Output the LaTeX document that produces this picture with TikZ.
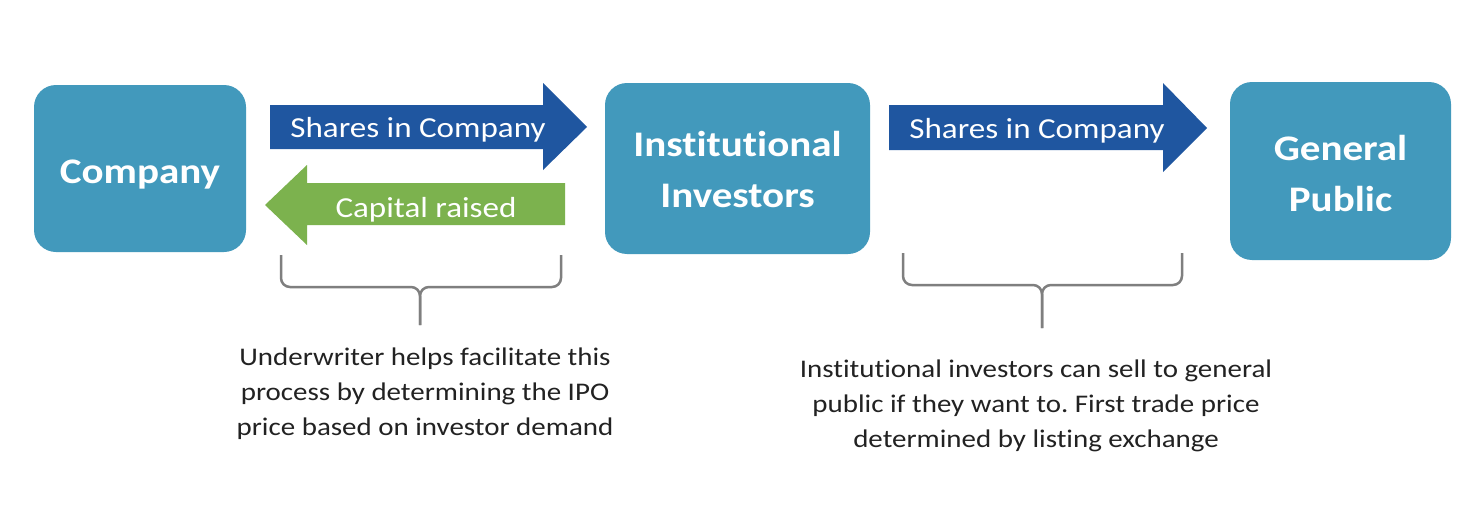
\documentclass[tikz,border=0pt]{standalone}
\usepackage{fontspec}
\setmainfont[FakeStretch=1.14,Ligatures={NoCommon}]{Carlito}
\frenchspacing
\definecolor{boxc}{HTML}{4299BC}
\definecolor{bluearr}{HTML}{1F56A0}
\definecolor{greenarr}{HTML}{7CB24E}
\definecolor{notec}{HTML}{222222}
\definecolor{bracec}{HTML}{7F7F7F}
\begin{document}
\begin{tikzpicture}[x=1pt,y=-1pt,
  box/.style={fill=boxc, draw=none, rounded corners=22pt, inner sep=0pt},
  boxtext/.style={text=white, font=\fontsize{36}{51}\selectfont\bfseries, align=center, anchor=base, inner sep=0pt},
  arrtext/.style={text=white, font=\fontsize{29}{35}\selectfont, anchor=base, inner sep=0pt},
  note/.style={text=notec, font=\fontsize{25.4}{35}\selectfont, align=center, anchor=base, inner sep=0pt},
  brace/.style={draw=bracec, line width=2.5pt, rounded corners=9pt}]
\useasboundingbox (0,0) rectangle (1468,506);
\fill[white] (0,0) rectangle (1468,506);
% boxes
\node[box, minimum width=212pt, minimum height=167pt] (company) at (140,168.5) {};
\node[box, minimum width=265pt, minimum height=171pt] (inst) at (737.5,168.5) {};
\node[box, minimum width=221pt, minimum height=178pt] (public) at (1340.5,171) {};
\node[boxtext] (companyL) at (140,183) {Company};
\node[boxtext] (instL) at (737.5,207) {Institutional\\Investors};
\node[boxtext] (publicL) at (1340.5,211) {General\\Public};
% arrows
\fill[bluearr] (270,105) -- (543,105) -- (543,83) -- (587,127) -- (543,170) -- (543,149) -- (270,149) -- cycle;
\fill[greenarr] (565,183) -- (307,183) -- (307,165) -- (265,205) -- (307,245) -- (307,225) -- (565,225) -- cycle;
\fill[bluearr] (889,105) -- (1163,105) -- (1163,83) -- (1207,128) -- (1163,172) -- (1163,150) -- (889,150) -- cycle;
\node[arrtext] (shares1) at (418,137) {Shares in Company};
\node[arrtext] (capital) at (426,217) {Capital raised};
\node[arrtext] (shares2) at (1037,138) {Shares in Company};
% braces
\draw[brace] (281,255) -- (281,287) -- (420,287) -- (420,325);
\draw[brace] (561,255) -- (561,287) -- (420,287) -- (420,325);
\draw[brace] (903,253) -- (903,285) -- (1042,285) -- (1042,328);
\draw[brace] (1182,253) -- (1182,285) -- (1042,285) -- (1042,328);
% notes
\node[note] (note1) at (425,435) {Underwriter helps facilitate this\\process by determining the IPO\\price based on investor demand};
\node[note] (note2) at (1036,447) {Institutional investors can sell to general\\public if they want to. First trade price\\determined by listing exchange};
\end{tikzpicture}
\end{document}
